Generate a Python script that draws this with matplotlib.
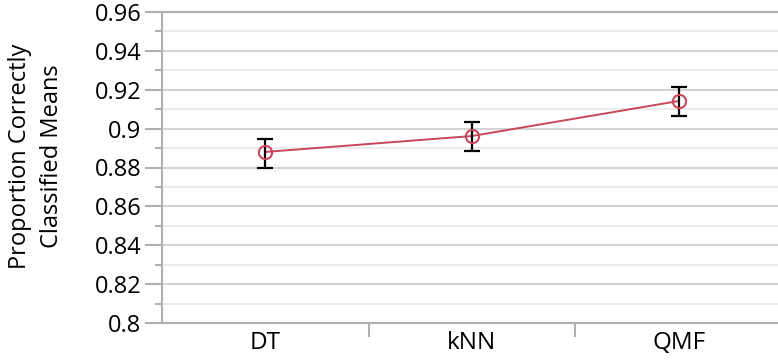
import matplotlib
matplotlib.use("Agg")
import matplotlib.pyplot as plt
import numpy as np

categories = ["DT", "kNN", "QMF"]
means = [0.888, 0.8962, 0.9142]
err_low = [0.8797, 0.8885, 0.9065]
err_high = [0.8947, 0.9034, 0.9214]

plt.rcParams['font.family'] = ['Open Sans', 'DejaVu Sans']

fig = plt.figure(figsize=(7.78, 3.6), dpi=100)
ax = fig.add_axes([162/778, 37/360, (778-162)/778 + 0.005, (323-12)/360])

x = np.arange(len(categories))
m = np.array(means)
yerr = np.vstack([m - np.array(err_low), np.array(err_high) - m])

red = "#c8485a"
ax.plot(x, m, color=red, lw=1.4, zorder=3)
ax.errorbar(x, m, yerr=yerr, fmt='none', ecolor='black', elinewidth=1.6, capsize=6, capthick=1.6, zorder=4)
ax.plot(x, m, 'o', ms=9.5, mfc='none', mec=red, mew=1.5, zorder=5)

ax.set_ylim(0.8, 0.96)
ax.set_xlim(-0.5, 2.5)
major = np.arange(0.80, 0.9601, 0.02)
minor = np.arange(0.81, 0.96, 0.02)
ax.set_yticks(major)
ax.set_yticklabels([f"{v:g}" for v in np.round(major, 2)])
ax.set_yticks(minor, minor=True)
for v in major:
    ax.axhline(v, color="#d4d4d4", lw=1.5, zorder=1)
for v in minor:
    ax.axhline(v, color="#ececec", lw=1.5, zorder=1)

ax.set_xticks(x)
ax.set_xticklabels(categories)
ax.set_xticks([0.5, 1.5], minor=True)
ax.tick_params(axis='x', which='major', length=0, labelsize=17.5, pad=6)
ax.tick_params(axis='x', which='minor', length=10, width=1.5, color="#b0b0b0", direction='out')
ax.tick_params(axis='y', which='major', length=12, width=1.5, color="#b0b0b0", labelsize=17, pad=3)
ax.tick_params(axis='y', which='minor', length=5, width=1.5, color="#b0b0b0")

for s in ['right']:
    ax.spines[s].set_visible(False)
for s in ['left', 'bottom', 'top']:
    ax.spines[s].set_color("#b0b0b0")
    ax.spines[s].set_linewidth(1.5)

ax.set_ylabel("Proportion Correctly\nClassified Means", fontsize=17, linespacing=1.45)
ax.yaxis.set_label_coords(-0.158, 0.535)

fig.savefig("out.png", dpi=100)
